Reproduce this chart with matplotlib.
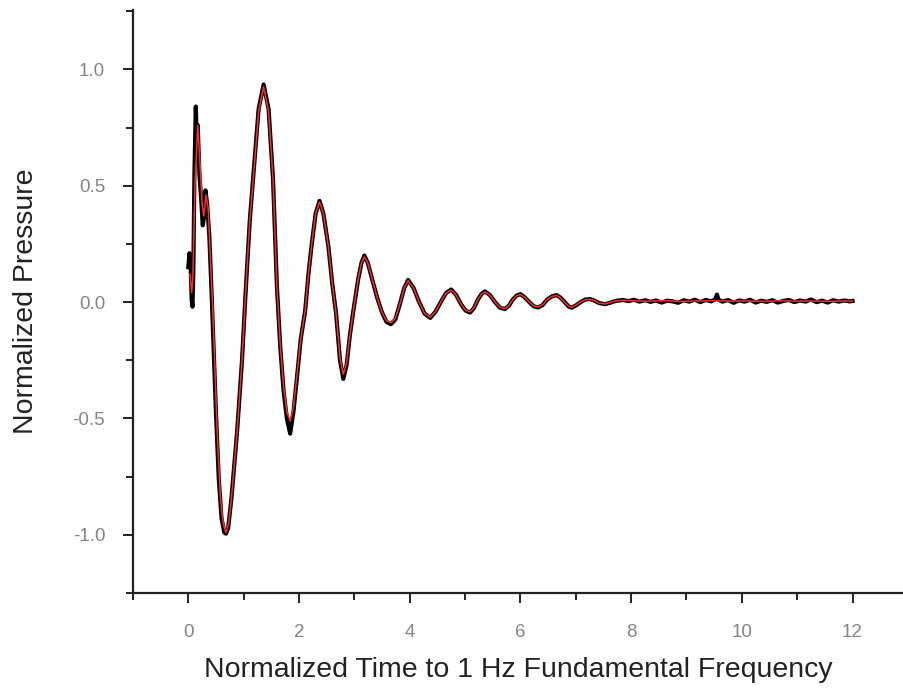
import numpy as np
import matplotlib
matplotlib.use('Agg')
import matplotlib.pyplot as plt
from matplotlib.ticker import MultipleLocator, FormatStrFormatter

plt.rcParams['font.family'] = ['Liberation Sans', 'DejaVu Sans']
plt.rcParams['axes.unicode_minus'] = False

# model fit (red)
t_fit = [0.03, 0.06, 0.08, 0.12, 0.17, 0.21, 0.25, 0.28, 0.32, 0.36,
         0.40, 0.44, 0.48, 0.52, 0.58, 0.63, 0.68, 0.73, 0.78, 0.88,
         0.97, 1.03, 1.11, 1.18, 1.27, 1.36, 1.45, 1.53, 1.60, 1.66,
         1.72, 1.78, 1.84, 1.90, 1.96, 2.03, 2.11, 2.17, 2.23, 2.30,
         2.37, 2.44, 2.53, 2.60, 2.67, 2.74, 2.80, 2.86, 2.92, 2.98,
         3.07, 3.13, 3.18, 3.24, 3.32, 3.41, 3.50, 3.58, 3.66, 3.74,
         3.82, 3.90, 3.97, 4.07, 4.17, 4.27, 4.37, 4.47, 4.56, 4.66,
         4.75, 4.84, 4.93, 5.01, 5.09, 5.16, 5.23, 5.30, 5.36, 5.45,
         5.54, 5.63, 5.72, 5.79, 5.86, 5.93, 6.00, 6.08, 6.16, 6.24,
         6.32, 6.40, 6.48, 6.57, 6.65, 6.72, 6.80, 6.87, 6.93, 7.01,
         7.09, 7.17, 7.26, 7.34, 7.42, 7.53, 7.62, 7.72, 7.85, 8.00,
         8.30, 8.60, 8.90, 9.20, 9.50, 9.80, 10.10, 10.40, 10.70, 11.00,
         11.30, 11.60, 11.90, 12.00]
p_fit = [0.12, 0.04, 0.10, 0.50, 0.76, 0.60, 0.42, 0.37, 0.46, 0.40,
         0.18, -0.02, -0.28, -0.55, -0.84, -0.95, -0.99, -0.95, -0.84, -0.56,
         -0.25, 0.02, 0.35, 0.55, 0.82, 0.925, 0.82, 0.53, 0.07, -0.18,
         -0.36, -0.47, -0.51, -0.45, -0.32, -0.16, -0.04, 0.12, 0.25, 0.38,
         0.43, 0.38, 0.24, 0.08, -0.05, -0.24, -0.31, -0.26, -0.14, -0.04,
         0.10, 0.17, 0.194, 0.17, 0.10, 0.02, -0.045, -0.08, -0.088, -0.07,
         -0.01, 0.06, 0.092, 0.06, 0.0, -0.05, -0.064, -0.04, 0.0, 0.04,
         0.051, 0.03, -0.01, -0.035, -0.042, -0.025, 0.01, 0.035, 0.044, 0.03,
         0.0, -0.022, -0.028, -0.015, 0.01, 0.027, 0.032, 0.02, 0.0, -0.016,
         -0.021, -0.012, 0.01, 0.024, 0.029, 0.02, 0.0, -0.018, -0.022, -0.012,
         0.0, 0.01, 0.012, 0.006, -0.004, -0.008, -0.002, 0.005, 0.008, 0.006,
         0.004, 0.006, 0.003, 0.005, 0.006, 0.004, 0.005, 0.003, 0.006, 0.004,
         0.005, 0.003, 0.005, 0.004]

# measured pressure (black)
t_meas = [0.00, 0.02, 0.04, 0.06, 0.075, 0.09, 0.11, 0.135, 0.15, 0.17,
          0.20, 0.23, 0.26, 0.28, 0.31, 0.34, 0.38, 0.42, 0.46, 0.50,
          0.55, 0.60, 0.65, 0.68, 0.72, 0.78, 0.88, 0.97, 1.03, 1.11,
          1.18, 1.27, 1.36, 1.45, 1.53, 1.60, 1.66, 1.72, 1.78, 1.84,
          1.90, 1.96, 2.03, 2.11, 2.17, 2.23, 2.30, 2.37, 2.44, 2.53,
          2.60, 2.67, 2.74, 2.80, 2.86, 2.92, 2.98, 3.07, 3.13, 3.18,
          3.24, 3.32, 3.41, 3.50, 3.58, 3.66, 3.74, 3.82, 3.90, 3.97,
          4.07, 4.17, 4.27, 4.37, 4.47, 4.56, 4.66, 4.75, 4.84, 4.93,
          5.01, 5.09, 5.16, 5.23, 5.30, 5.36, 5.45, 5.54, 5.63, 5.72,
          5.79, 5.86, 5.93, 6.00, 6.08, 6.16, 6.24, 6.32, 6.40, 6.48,
          6.57, 6.65, 6.72, 6.80, 6.87, 6.93, 7.01, 7.09, 7.17, 7.26,
          7.34, 7.42, 7.53, 7.62, 7.72, 7.85, 7.95, 8.05, 8.15, 8.25,
          8.35, 8.45, 8.55, 8.65, 8.75, 8.85, 8.95, 9.05, 9.15, 9.25,
          9.35, 9.45, 9.52, 9.55, 9.58, 9.65, 9.75, 9.85, 9.95, 10.05,
          10.15, 10.25, 10.35, 10.45, 10.55, 10.65, 10.75, 10.85, 10.95, 11.05,
          11.15, 11.25, 11.35, 11.45, 11.55, 11.65, 11.75, 11.85, 11.95, 12.00]
p_meas = [0.15, 0.21, 0.17, 0.01, -0.02, 0.12, 0.55, 0.84, 0.72, 0.76,
          0.55, 0.45, 0.33, 0.36, 0.48, 0.42, 0.28, 0.04, -0.22, -0.48,
          -0.76, -0.93, -0.99, -0.995, -0.97, -0.84, -0.56, -0.25, 0.02, 0.35,
          0.56, 0.83, 0.935, 0.83, 0.53, 0.07, -0.19, -0.38, -0.50, -0.565,
          -0.47, -0.33, -0.16, -0.04, 0.12, 0.25, 0.38, 0.435, 0.38, 0.24,
          0.08, -0.05, -0.25, -0.33, -0.27, -0.14, -0.04, 0.10, 0.17, 0.20,
          0.17, 0.10, 0.02, -0.045, -0.085, -0.095, -0.075, -0.01, 0.06, 0.095,
          0.06, 0.0, -0.05, -0.068, -0.04, 0.0, 0.04, 0.054, 0.03, -0.01,
          -0.037, -0.045, -0.026, 0.01, 0.036, 0.046, 0.03, 0.0, -0.024, -0.03,
          -0.016, 0.01, 0.028, 0.034, 0.02, 0.0, -0.018, -0.023, -0.013, 0.01,
          0.025, 0.03, 0.02, 0.0, -0.019, -0.024, -0.013, 0.0, 0.011, 0.013,
          0.006, -0.004, -0.009, -0.003, 0.005, 0.009, 0.004, 0.010, 0.002, 0.008,
          0.001, 0.007, -0.002, 0.006, 0.003, -0.003, 0.008, 0.002, 0.010, 0.0,
          0.009, 0.003, 0.012, 0.032, 0.010, 0.002, 0.009, -0.003, 0.007, 0.002,
          0.010, -0.002, 0.006, 0.001, 0.008, -0.002, 0.005, 0.009, 0.0, 0.007,
          0.002, 0.011, 0.0, 0.006, -0.002, 0.008, 0.002, 0.007, 0.003, 0.005]

fig = plt.figure(figsize=(9.04, 6.89), dpi=100)
ax = fig.add_axes([0.1471, 0.1393, 0.8529, 0.8462])

ax.plot(t_meas, p_meas, color='black', lw=3.0, solid_joinstyle='round')
ax.plot(t_fit, p_fit, color='#ff2a2a', lw=1.1, solid_joinstyle='round')

ax.set_xlim(-1, 12.93)
ax.set_ylim(-1.25, 1.255)

for s in ['top', 'right']:
    ax.spines[s].set_visible(False)
for s in ['left', 'bottom']:
    ax.spines[s].set_linewidth(1.6)
    ax.spines[s].set_color('#222222')

ax.xaxis.set_major_locator(MultipleLocator(2))
ax.xaxis.set_minor_locator(MultipleLocator(1))
ax.yaxis.set_major_locator(MultipleLocator(0.5))
ax.yaxis.set_minor_locator(MultipleLocator(0.25))
ax.yaxis.set_major_formatter(FormatStrFormatter('%.1f'))

ax.tick_params(axis='both', which='major', direction='out', length=7, width=1.4,
               color='#222222', labelsize=13.5, labelcolor='#858585')
ax.tick_params(axis='both', which='minor', direction='out', length=5, width=1.4,
               color='#222222')
ax.tick_params(axis='x', which='major', pad=15)
ax.tick_params(axis='y', which='major', pad=13)

ax.set_xlabel('Normalized Time to 1 Hz Fundamental Frequency', fontsize=20.5,
              color='#222222', labelpad=12)
ax.set_ylabel('Normalized Pressure', fontsize=20.5, color='#222222', labelpad=24)

fig.savefig('out.png', dpi=100)
